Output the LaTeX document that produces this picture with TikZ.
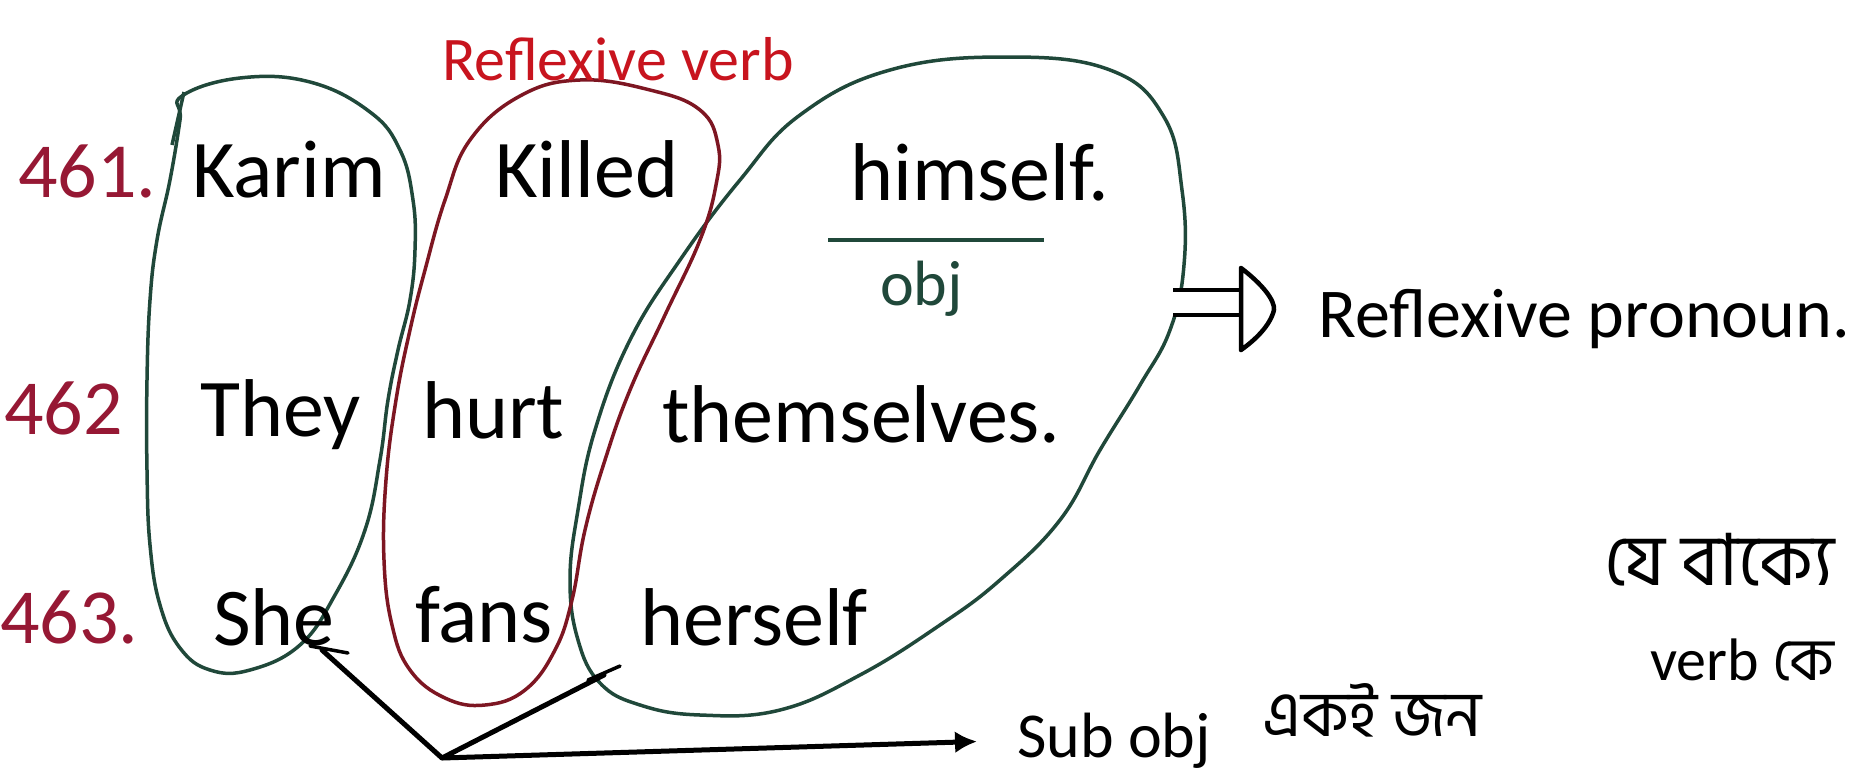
\documentclass[tikz,border=0pt]{standalone}
\usepackage{fontspec}
\setmainfont{Carlito}
\newfontfamily\bnfont[Script=Bengali]{Hind Siliguri}
\usetikzlibrary{arrows.meta,positioning}
\definecolor{inkgreen}{RGB}{32,72,58}
\definecolor{inkred}{RGB}{125,22,34}
\definecolor{numred}{RGB}{150,24,52}
\definecolor{penred}{RGB}{200,20,30}

\begin{document}
\begin{tikzpicture}[x=1pt,y=-1pt,
  word/.style={anchor=base west,inner sep=0pt,font=\fontsize{82}{86}\selectfont},
  num/.style={word,text=numred,font=\fontsize{78}{80}\selectfont},
  note/.style={anchor=base west,inner sep=0pt,font=\fontsize{64}{70}\selectfont},
  bn/.style={anchor=base west,inner sep=0pt,text depth=0pt,font=\bnfont\fontsize{64}{70}\selectfont},
  loopline/.style={line width=3.5pt,inkgreen,line join=round},
  redloop/.style={line width=3.5pt,inkred},
  pen/.style={line width=5pt,black,line cap=round,line join=round}]
\clip (0,0) rectangle (1864,774);
\fill[white] (0,0) rectangle (1864,774);

% the three loops
\draw[loopline] plot[smooth cycle,tension=0.7] coordinates {(182,96) (240,78) (310,82) (370,112) (400,150) (413,200) (415,250) (410,300) (398,350) (388,400) (380,460) (365,530) (335,595) (300,645) (250,670) (210,670) (180,648) (160,605) (150,545) (147,470) (147,380) (150,300) (157,240) (170,180) (180,120)};
\draw[loopline] (172,145) -- (184,92);
\draw[loopline] plot[smooth cycle,tension=0.7] coordinates {(1006,57) (1110,70) (1164,117) (1182,190) (1184,265) (1170,330) (1140,385) (1100,450) (1060,520) (1000,580) (940,625) (860,675) (780,710) (700,715) (640,705) (600,683) (578,640) (570,580) (578,510) (595,430) (630,340) (680,260) (740,180) (800,115) (890,70)};
\draw[redloop] plot[smooth cycle,tension=0.7] coordinates {(580,80) (650,90) (700,110) (718,145) (716,185) (700,240) (665,315) (630,390) (605,460) (585,530) (572,600) (555,650) (525,690) (485,705) (445,698) (410,670) (392,625) (384,560) (386,480) (396,400) (410,330) (425,270) (445,200) (470,140) (520,96)};

% numbers
\node[num] (n461) at (18,197) {461.};
\node[num] (n462) at (4,434) {462};
\node[num] (n463) at (0,643) {463.};

% sentences
\node[word] (karim) at (192,197) {Karim};
\node[word] (killed) at (495,197) {Killed};
\node[word] (himself) at (850,200) {himself.};
\node[word] (they) at (200,436) {They};
\node[word] (hurt) at (422,438) {hurt};
\node[word] (themselves) at (662,442) {themselves.};
\node[word] (she) at (213,645) {She};
\node[word] (fans) at (415,642) {fans};
\node[word] (herself) at (640,645) {herself};

\node[note,text=penred,font=\fontsize{62}{64}\selectfont] (rverb) at (442,80) {Reflexive verb};
\draw[loopline] (828,240) -- (1044,240);
\node[note,text=inkgreen] (obj) at (880,305) {obj};

% => Reflexive pronoun
\node[word,font=\fontsize{70}{72}\selectfont] (rpron) at (1318,337) {Reflexive pronoun.};
\coordinate (impl-a) at (1173,302);
\coordinate (impl-b) at (1243,302);
\draw[line width=4pt,double=white,double distance=21pt] (impl-a) -- (impl-b);
\draw[pen,line width=4.5pt] (1241,268) -- (1241,350)
  (1241,268) .. controls (1262,284) and (1275,300) .. (1274,310)
  .. controls (1270,326) and (1255,340) .. (1241,350);

% sub obj
\node[note] (subobj) at (1017,757) {Sub obj};
\node[bn] (ekijon) at (1262,736) {একই জন};
\coordinate (vtx) at (442,758);
\coordinate (shefoot) at (322,650);
\coordinate (herfoot) at (604,675);
\draw[pen] (shefoot) -- (vtx) -- (herfoot);
\draw[pen,line width=3.5pt] (310,646) -- (348,653);
\draw[pen,line width=3.5pt] (588,680) -- (620,666);
\draw[pen,-{Latex[length=22pt,width=22pt]},shorten >=40pt] (vtx) -- (subobj.west);

% note on the right
\node[bn,font=\bnfont\fontsize{72}{76}\selectfont] (bn1) at (1604,585) {যে বাক্যে};
\node[note,font=\fontsize{60}{64}\selectfont] (bn2) at (1650,680) {verb {\bnfont কে}};
\end{tikzpicture}
\end{document}
